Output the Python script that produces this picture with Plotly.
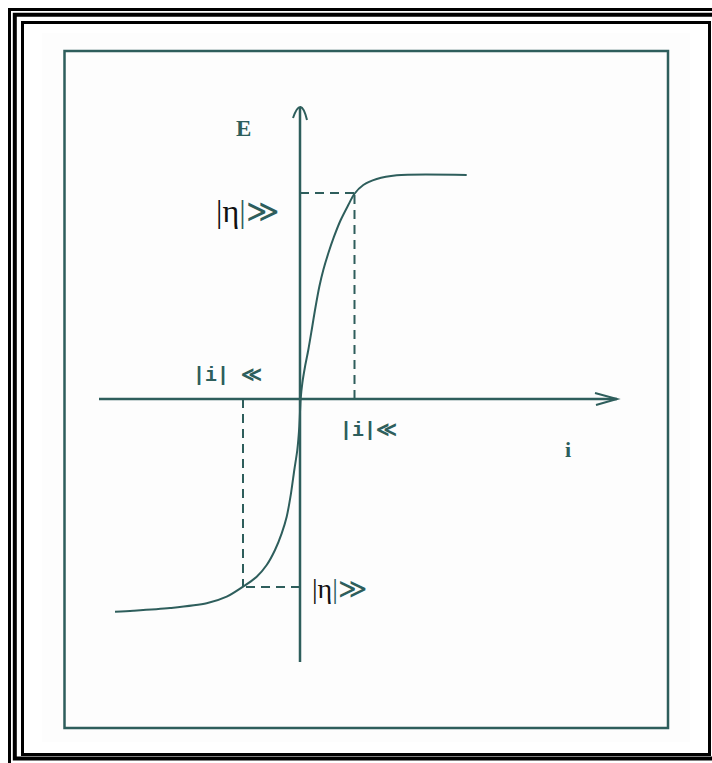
import plotly.graph_objects as go

# Polarisation curve E = f(i): current i (horizontal) and potential E (vertical)
current_i = [-18.5, -16.67, -13.0, -9.33, -7.33, -5.6, -4.33, -3.33, -2.5,
             -1.83, -1.33, -0.9, -0.57, -0.27, -0.07, 0.07, 0.23, 0.5, 0.83,
             1.17, 1.5, 1.93, 2.33, 2.83, 3.4, 4.07, 4.83, 5.43, 6.33, 7.67,
             9.67, 16.67]
potential_E = [-21.27, -21.17, -20.9, -20.43, -19.77, -18.7, -17.77, -16.6,
               -15.1, -13.43, -11.77, -9.43, -7.1, -5.1, -2.77, 0.07, 1.57,
               3.23, 4.9, 6.9, 8.9, 11.23, 12.9, 14.57, 16.23, 17.9, 19.4,
               20.5, 21.4, 22.0, 22.37, 22.4]

# Points where the curve meets the |eta| >> limits (dashed construction lines)
knee_i = [5.45, -5.7]
knee_E = [20.6, -18.8]

# Axis labels and annotation texts
axis_labels = ["E", "i"]
eta_label = "|η|≫"
small_i_labels = ["|i| ≪", "|i|≪"]

TEAL = "#2E5E5C"
W, H = 712, 763

# data units: 10 px per unit, origin where the two axes cross
X_RANGE = [-30.0, 41.2]
Y_RANGE = [-36.4, 39.9]


def px_x(p):
    return p / W


def px_y(p):
    return 1 - p / H


fig = go.Figure()

fig.add_trace(go.Scatter(
    x=current_i, y=potential_E, mode="lines",
    line=dict(color=TEAL, width=2, shape="spline", smoothing=0.8),
    hoverinfo="skip", showlegend=False,
))

shapes = []

# page frame: faint panel, triple black border, teal inner box
shapes.append(dict(type="rect", xref="paper", yref="paper",
                   x0=px_x(42), x1=px_x(690), y0=px_y(742), y1=px_y(33),
                   fillcolor="#FDFDFD", line=dict(width=0), layer="below"))
for x0, y0, x1, y1, w in [(9.5, 9.5, 730, 790, 3),
                          (14.8, 14.8, 725, 758.5, 4),
                          (22.5, 22.5, 709.5, 754.5, 3)]:
    shapes.append(dict(type="rect", xref="paper", yref="paper",
                       x0=px_x(x0), x1=px_x(x1), y0=px_y(y1), y1=px_y(y0),
                       line=dict(color="black", width=w)))
shapes.append(dict(type="rect", xref="paper", yref="paper",
                   x0=px_x(64.5), x1=px_x(668), y0=px_y(728), y1=px_y(51),
                   line=dict(color=TEAL, width=2.5)))

# coordinate axes with open arrow heads
shapes.append(dict(type="line", x0=-20.1, x1=31.7, y0=0, y1=0,
                   line=dict(color=TEAL, width=2.5)))
shapes.append(dict(type="line", x0=0, x1=0, y0=-26.3, y1=29.1,
                   line=dict(color=TEAL, width=2.5)))
shapes.append(dict(type="path", path="M 29.5 0.6 L 31.7 0 L 29.6 -0.6",
                   line=dict(color=TEAL, width=2)))
shapes.append(dict(type="path", path="M -0.7 28.1 Q 0.1 30.4 0.7 27.9",
                   line=dict(color=TEAL, width=2)))

# dashed construction lines from the knees of the curve to both axes
dash = "9px,6px"
for ki, ke in zip(knee_i, knee_E):
    shapes.append(dict(type="line", x0=ki, x1=ki, y0=0, y1=ke,
                       line=dict(color=TEAL, width=2, dash=dash)))
    shapes.append(dict(type="line", x0=0, x1=ki, y0=ke, y1=ke,
                       line=dict(color=TEAL, width=2, dash=dash)))

annotations = []


def note(x, y, text, size, family, color=TEAL):
    annotations.append(dict(x=x, y=y, text=text, showarrow=False,
                            xanchor="center", yanchor="middle",
                            font=dict(size=size, family=family, color=color)))


note(-5.7, 27.1, "<b>%s</b>" % axis_labels[0], 23, "Liberation Serif")
note(26.8, -5.0, "<b>%s</b>" % axis_labels[1], 22, "Liberation Serif")

eta_html = ('<span style="color:#111">%s</span>%s'
            % (eta_label[:2], eta_label[2:]))
note(-5.2, 18.8, eta_html, 32, "Liberation Serif")
note(3.9, -18.9, eta_html, 28, "Liberation Serif")

note(-7.3, 2.4, "<b>%s</b>" % small_i_labels[0], 20, "Liberation Mono")
note(6.8, -3.1, "<b>%s</b>" % small_i_labels[1], 20, "Liberation Mono")

fig.update_layout(
    width=W, height=H, autosize=False,
    margin=dict(l=0, r=0, t=0, b=0, pad=0),
    paper_bgcolor="white", plot_bgcolor="rgba(0,0,0,0)",
    xaxis=dict(range=X_RANGE, visible=False, fixedrange=True),
    yaxis=dict(range=Y_RANGE, visible=False, fixedrange=True),
    shapes=shapes, annotations=annotations, showlegend=False,
)

fig.write_html("out.html")
